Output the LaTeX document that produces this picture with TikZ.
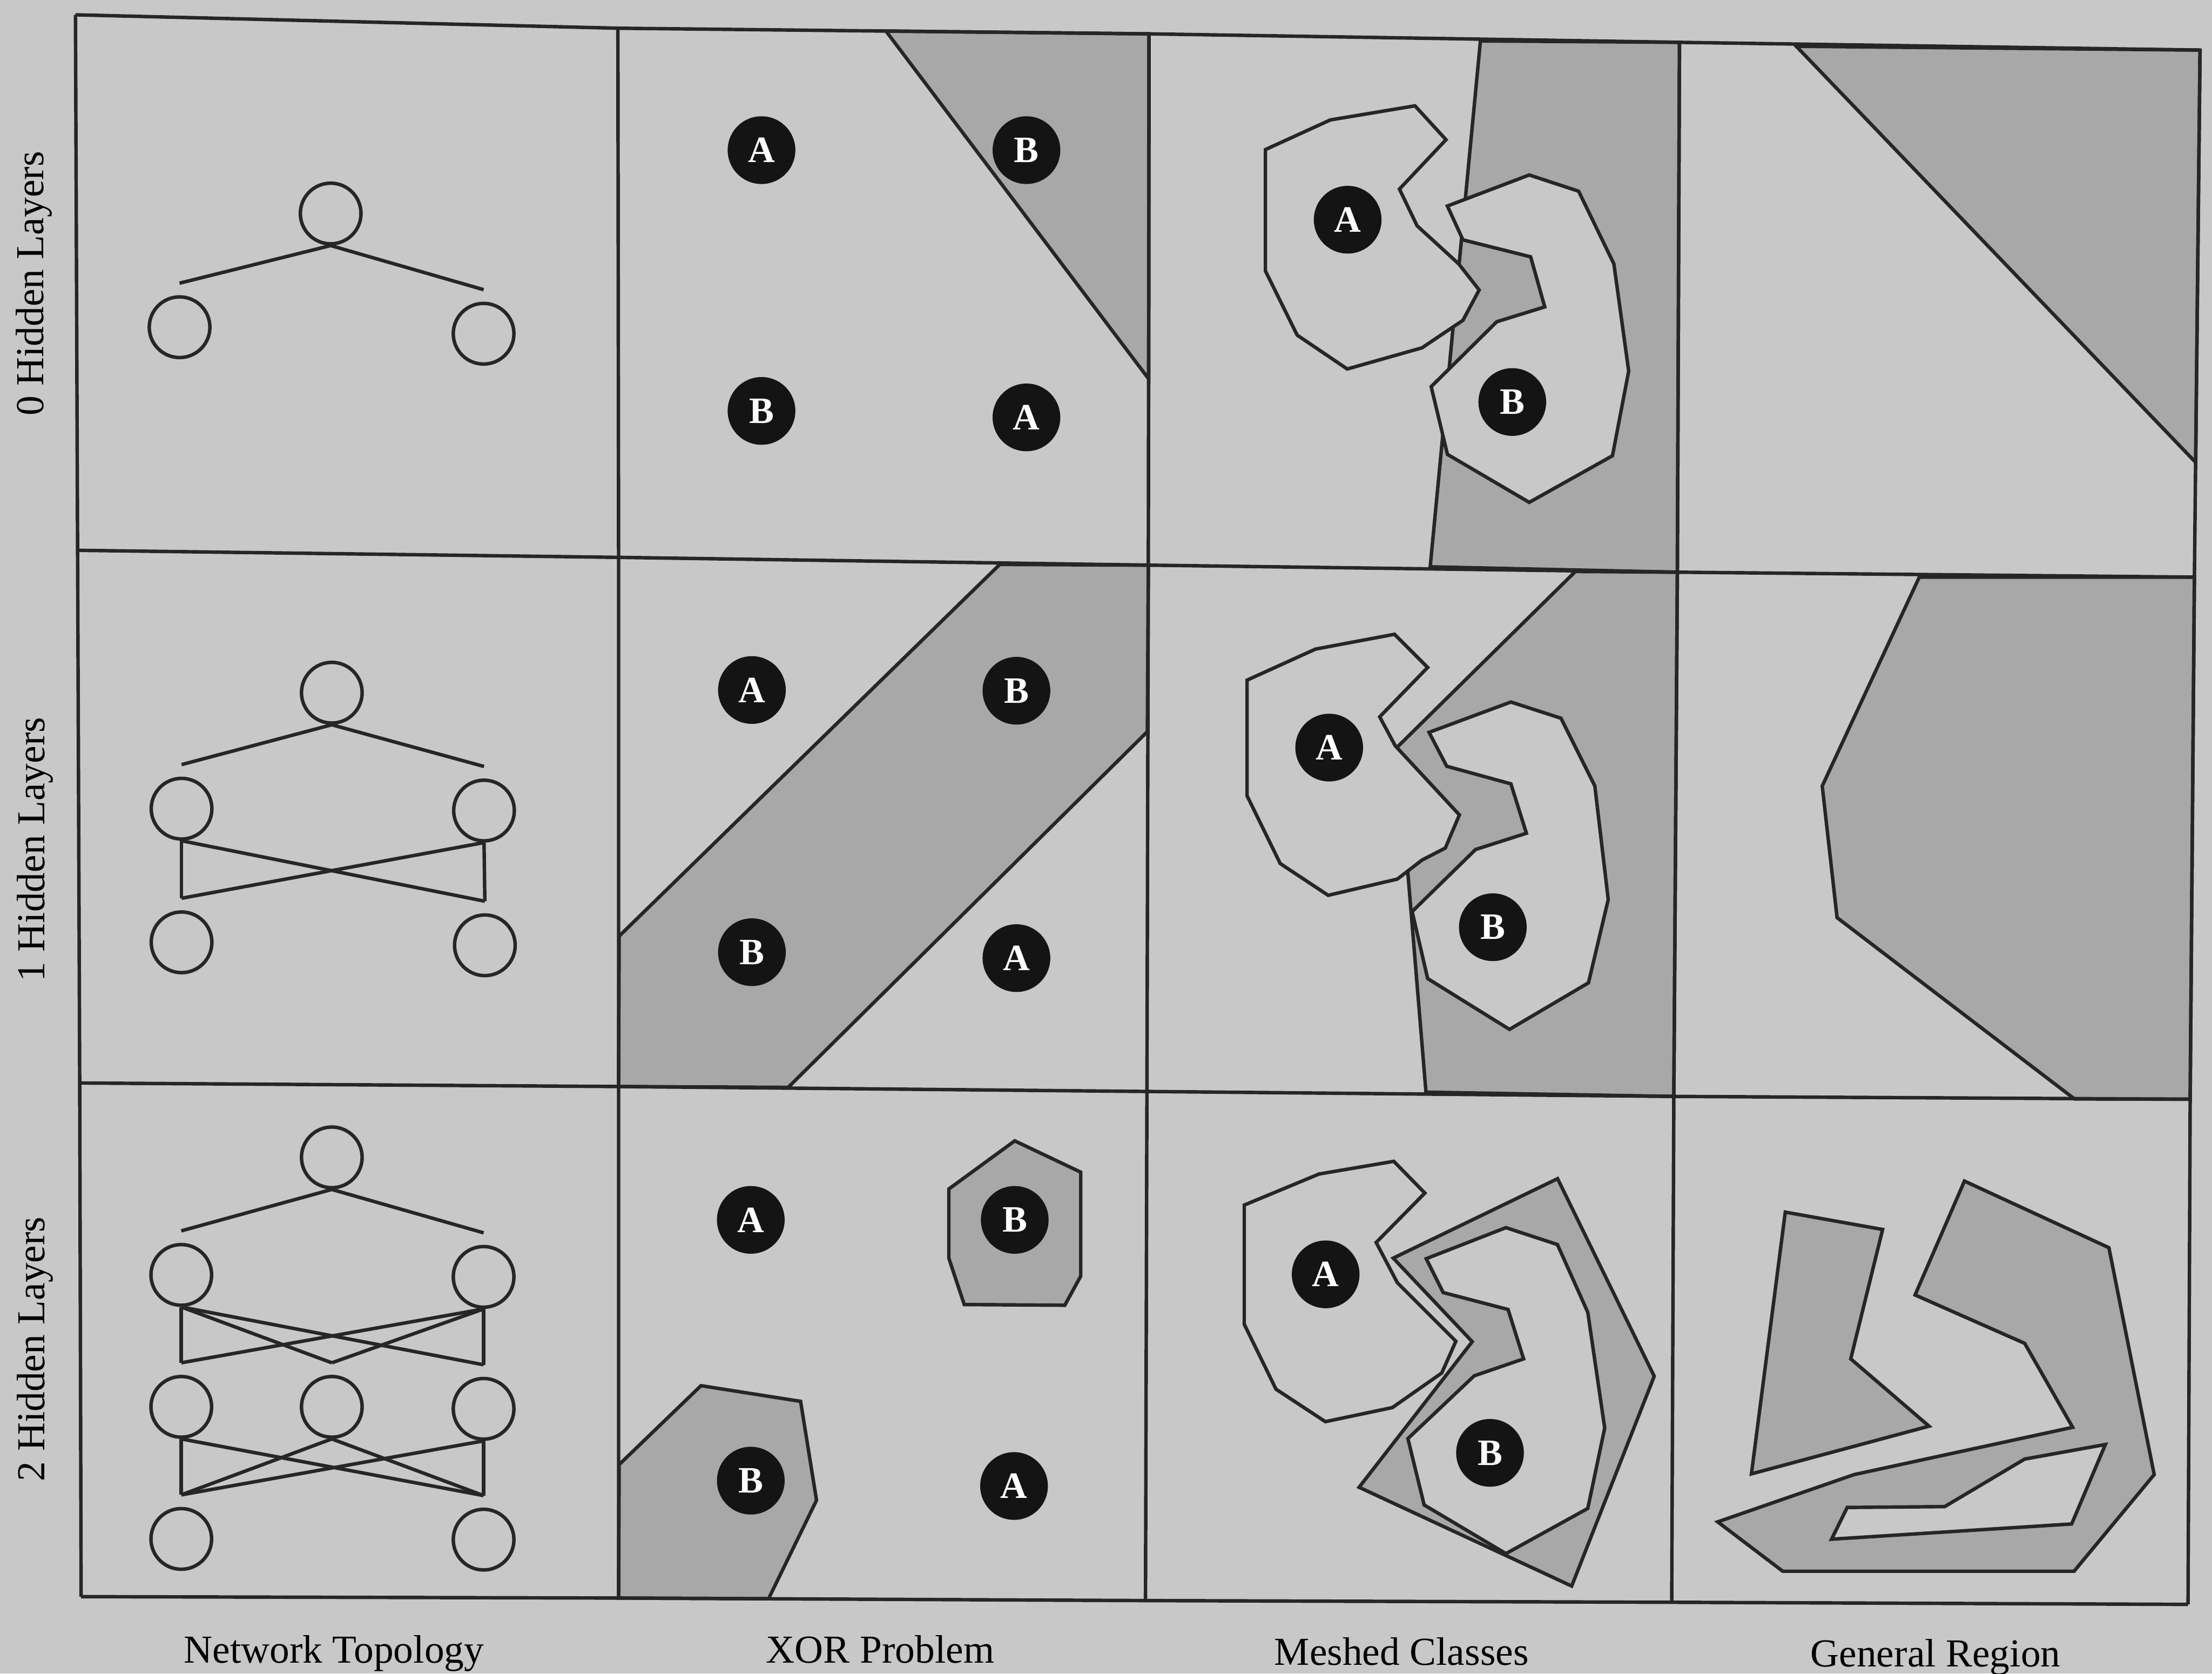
\documentclass[tikz,border=0pt]{standalone}
\usepackage{fontspec}
\setmainfont{Liberation Serif}
\usetikzlibrary{positioning}
\definecolor{pagegray}{RGB}{200,200,200}
\definecolor{regiongray}{RGB}{168,168,168}

\begin{document}
\begin{tikzpicture}[
  x=0.02cm, y=-0.02cm,
  font=\fontsize{16}{19}\selectfont,
  frame/.style={line width=1.4pt, black!85},
  region/.style={fill=regiongray, draw=black!85, line width=1.4pt},
  blob/.style={fill=pagegray, draw=black!85, line width=1.4pt},
  unit/.style={circle, draw=black!85, line width=1.4pt, minimum size=0.86cm, inner sep=0pt},
  wire/.style={line width=1.4pt, black!85},
  cls/.style={circle, fill=black!92, text=white, minimum size=0.96cm, inner sep=0pt,
              font=\fontsize{15}{15}\selectfont\bfseries},
  rowlab/.style={rotate=90},
  collab/.style={anchor=base},
]
  \useasboundingbox (0,0) rectangle (1568,1186);
  \fill[pagegray] (0,0) rectangle (1568,1186);

  % cell corners
  \coordinate (g00) at (53.5,10.5);   \coordinate (g10) at (438,20);      \coordinate (g20) at (814.5,24);
  \coordinate (g30) at (1190.5,30);   \coordinate (g40) at (1559.5,35.5);
  \coordinate (g01) at (55,390);      \coordinate (g11) at (438.5,395);   \coordinate (g21) at (814,400.5);
  \coordinate (g31) at (1189,405.5);  \coordinate (g41) at (1555.5,409);
  \coordinate (g02) at (56.5,767.5);  \coordinate (g12) at (438.5,770);   \coordinate (g22) at (813,773.5);
  \coordinate (g32) at (1186.5,777);  \coordinate (g42) at (1552.5,779);
  \coordinate (g03) at (57.5,1131.5); \coordinate (g13) at (438.5,1132.5); \coordinate (g23) at (812,1134.3);
  \coordinate (g33) at (1185,1135.5); \coordinate (g43) at (1551,1137);

  % XOR problem
  \draw[region] (628,22) -- (g20) -- (814.3,268.6) -- cycle;
  \draw[region] (708.7,400) -- (g21) -- (813.3,518.5) -- (558.7,770.6) -- (g12) -- (438.9,663.4) -- cycle;
  \draw[region] (719.3,808.5) -- (766.1,830.7) -- (766.1,904.3) -- (754.8,925) -- (683.5,924.5)
    -- (672.6,891.7) -- (672.6,842.6) -- cycle;
  \draw[region] (438.9,1037.9) -- (496.9,982) -- (567.5,993.1) -- (578.8,1063.2) -- (544.8,1133)
    -- (g13) -- cycle;

  % meshed classes
  \draw[region] (1049.4,29) -- (g30) -- (g31) -- (1013.8,401.7) -- cycle;
  \draw[blob] (897,106) -- (943,85) -- (1003,75) -- (1025,99) -- (992,134) -- (1004.5,160) -- (1034,187)
    -- (1048.5,205.5) -- (1037,227) -- (1008,246.5) -- (955,261.5) -- (919.5,237.5) -- (897,192) -- cycle;
  \draw[blob] (1026,146) -- (1084,124) -- (1119,135.5) -- (1144,187) -- (1154.5,263) -- (1143,323)
    -- (1084,356) -- (1026,322) -- (1014.5,274) -- (1061,228) -- (1095,217.5) -- (1085,182) -- (1037,170) -- cycle;

  \draw[region] (1116.7,405) -- (990.6,529.3) -- (1010.8,774) -- (g32) -- (g31) -- cycle;
  \draw[blob] (884,482) -- (932.5,460) -- (988.5,449.5) -- (1012,473) -- (978,508) -- (989,528.5)
    -- (1034.5,577.5) -- (1024.5,601) -- (1008,609.5) -- (990.5,623) -- (941.5,634.5) -- (907.5,612)
    -- (884,564) -- cycle;
  \draw[blob] (1013,519) -- (1071,497.5) -- (1106.5,509) -- (1130.5,557) -- (1140,637.5) -- (1126,696.5)
    -- (1070,729.5) -- (1012,693.5) -- (1001,646) -- (1046,602) -- (1082,590.5) -- (1071,555.5)
    -- (1025.5,543) -- cycle;

  \draw[blob] (882,854) -- (935,832) -- (988,823) -- (1010,845.5) -- (975.5,880.5) -- (990.5,909)
    -- (1032,950.5) -- (1022,973) -- (987,997.5) -- (939.5,1007.5) -- (904.5,984.5) -- (882,938.5) -- cycle;
  \draw[region] (987.6,891.6) -- (1104.1,835.3) -- (1172.6,975.3) -- (1114.1,1124) -- (963.4,1054)
    -- (1043.6,950.8) -- cycle;
  \draw[blob] (1011,892) -- (1067.5,870) -- (1104,882) -- (1125.5,930) -- (1137.5,1012) -- (1125.5,1069)
    -- (1067.5,1101) -- (1009.5,1066.5) -- (998,1019.5) -- (1045,975) -- (1080,963) -- (1069,928)
    -- (1023,916) -- cycle;

  % general region
  \draw[region] (1273.3,32.8) -- (g40) -- (1556.4,327.7) -- cycle;
  \draw[region] (1360.5,409) -- (g41) -- (g42) -- (1470.5,778.8) -- (1302.2,650.3) -- (1291.7,557) -- cycle;
  \draw[region] (1265.5,859) -- (1334.5,871.3) -- (1311.9,963) -- (1367.4,1010.7) -- (1241.5,1044.5) -- cycle;
  \draw[region, even odd rule] (1392.5,837) -- (1494.9,884.2) -- (1527,1045) -- (1470.2,1113.5)
    -- (1263.7,1113.5) -- (1217.6,1078.5) -- (1314.3,1045) -- (1469.2,1011.5) -- (1435.2,952)
    -- (1357.5,917.7) -- cycle
    (1309.4,1068.3) -- (1378.5,1067.7) -- (1435.2,1034) -- (1492.4,1023.7) -- (1468.5,1080)
    -- (1298.3,1090.8) -- cycle;

  % grid
  \foreach \j in {0,...,3}
    \draw[frame] (g0\j) -- (g1\j) -- (g2\j) -- (g3\j) -- (g4\j);
  \foreach \i in {0,...,4}
    \draw[frame] (g\i0) -- (g\i1) -- (g\i2) -- (g\i3);

  % network topology
  \node[unit] (o0) at (234.4,151.3) {};
  \node[unit] (i0a) at (127.3,231.9) {};
  \node[unit] (i0b) at (342.8,236.5) {};

  \node[unit] (o1) at (235.2,490.9) {};
  \node[unit] (h1a) at (128.7,573.1) {};
  \node[unit] (h1b) at (343.1,574.4) {};
  \node[unit] (i1a) at (128.7,667.8) {};
  \node[unit] (i1b) at (343.7,669.9) {};

  \node[unit] (o2) at (235.2,820.2) {};
  \node[unit] (h2a) at (128.5,903.5) {};
  \node[unit] (h2b) at (342.8,904.9) {};
  \node[unit] (k2a) at (128.5,997) {};
  \node[unit] (k2b) at (235.2,997) {};
  \node[unit] (k2c) at (342.8,998.4) {};
  \node[unit] (i2a) at (128.5,1090.6) {};
  \node[unit] (i2b) at (342.8,1091.1) {};

  \foreach \u in {i0a,i0b,h1a,h1b,i1a,i1b,h2a,h2b,k2a,k2b,k2c,i2a,i2b}
    \coordinate (\u-t) at ([yshift=1.7mm]\u.north);

  \draw[wire] (i0a-t) -- (o0.south) -- (i0b-t);
  \draw[wire] (h1a-t) -- (o1.south) -- (h1b-t);
  \draw[wire] (h2a-t) -- (o2.south) -- (h2b-t);
  \foreach \a/\b in {h1a/i1a, h1a/i1b, h1b/i1a, h1b/i1b,
                     h2a/k2a, h2a/k2b, h2a/k2c, h2b/k2a, h2b/k2b, h2b/k2c,
                     k2a/i2a, k2a/i2b, k2b/i2a, k2b/i2b, k2c/i2a, k2c/i2b}
    \draw[wire] (\a.south) -- (\b-t);

  % class markers
  \node[cls] (x0a) at (539.8,106.4) {A};
  \node[cls] (x0b) at (727.6,106.4) {B};
  \node[cls] (x0c) at (539.8,291.2) {B};
  \node[cls] (x0d) at (727.6,295.8) {A};
  \node[cls] (x1a) at (533,489) {A};
  \node[cls] (x1b) at (720.5,489.5) {B};
  \node[cls] (x1c) at (533,674.8) {B};
  \node[cls] (x1d) at (720.5,679) {A};
  \node[cls] (x2a) at (532.2,864.5) {A};
  \node[cls] (x2b) at (719.3,864.5) {B};
  \node[cls] (x2c) at (532.2,1049.3) {B};
  \node[cls] (x2d) at (718.8,1053.1) {A};

  \node[cls] (m0a) at (955.3,155.7) {A};
  \node[cls] (m0b) at (1072,284.9) {B};
  \node[cls] (m1a) at (942.2,529.8) {A};
  \node[cls] (m1b) at (1058.2,657.1) {B};
  \node[cls] (m2a) at (939.7,903.1) {A};
  \node[cls] (m2b) at (1056.2,1029.6) {B};

  % labels
  \node[rowlab] (lab0) at (24,201) {0 Hidden Layers};
  \node[rowlab] (lab1) at (25,602) {1 Hidden Layers};
  \node[rowlab] (lab2) at (25,956) {2 Hidden Layers};
  \node[collab] (labnet) at (236.7,1178.5) {Network Topology};
  \node[collab] (labxor) at (624,1178.5) {XOR Problem};
  \node[collab] (labmesh) at (993.5,1180) {Meshed Classes};
  \node[collab] (labgen) at (1372,1181) {General Region};
\end{tikzpicture}
\end{document}
